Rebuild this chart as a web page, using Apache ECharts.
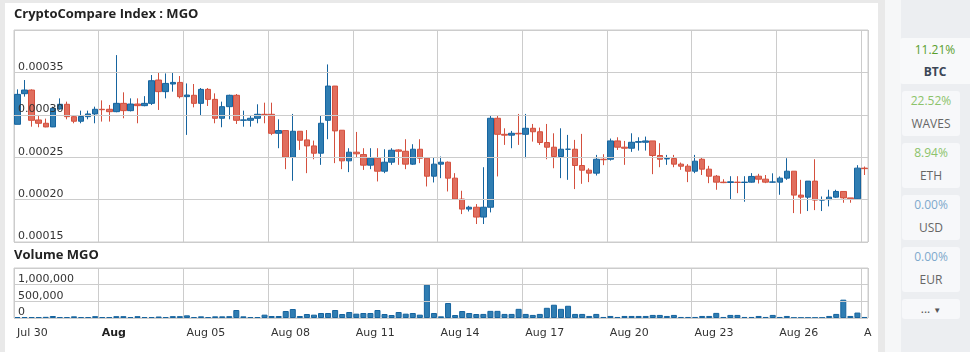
<!DOCTYPE html>
<html>
<head>
<meta charset="utf-8">
<script src="https://cdn.jsdelivr.net/npm/echarts@6/dist/echarts.min.js"></script>
<style>
    html, body { margin: 0; padding: 0; }
    body { width: 970px; height: 352px; background: #e9e9e9; position: relative; overflow: hidden; font-family: "Open Sans", sans-serif; }
    .card { position: absolute; left: 5px; top: 3px; width: 873px; height: 360px; background: #fff; }
    .strip { position: absolute; left: 885px; top: 0; width: 16px; height: 352px; background: #f6f7f8; }
    .side { position: absolute; left: 901px; top: 0; width: 69px; height: 352px; background: #eceef1; }
    .item { position: absolute; left: 902px; width: 58px; height: 45px; background: #f7f8fa; border-radius: 3px; }
    .item.first { left: 900px; width: 80px; top: 38px; height: 46px; background: #f8f9fa; }
    .item div { position: absolute; left: 0; width: 58px; text-align: center; font-size: 12px; line-height: 16px; }
    .item.first div { width: 70px; }
    .pct { top: 2px; }
    .name { top: 25px; color: #666; }
    .up1 { color: #5a9e2c; }
    .up2 { color: #8cc36b; }
    .flat { color: #7ea8cc; }
    #main { position: absolute; left: 0; top: 0; width: 970px; height: 352px; }
</style>
</head>
<body>
<div class="card"></div>
<div class="strip"></div>
<div class="side"></div>
<div class="item first"><div class="pct up1" style="top:4px">11.21%</div><div class="name" style="top:26px;color:#3b4656;font-weight:bold">BTC</div></div>
<div class="item" style="top:91px"><div class="pct up2">22.52%</div><div class="name">WAVES</div></div>
<div class="item" style="top:143px"><div class="pct up2">8.94%</div><div class="name">ETH</div></div>
<div class="item" style="top:195px"><div class="pct flat">0.00%</div><div class="name">USD</div></div>
<div class="item" style="top:247px"><div class="pct flat">0.00%</div><div class="name">EUR</div></div>
<div class="item" style="top:299px;height:20px"><div class="name" style="top:2px;color:#555">... <span style="font-size:8px">▼</span></div></div>
<div id="main"></div>
<script>
// prices in units of 0.00001
var open = [
    28.88, 32.49, 32.92, 29.39, 29.00, 28.57, 30.69, 31.24, 29.78, 29.24,
    29.78, 30.10, 30.65, 30.65, 30.37, 31.35, 30.49, 31.27, 31.08, 31.35,
    34.10, 32.73, 33.63, 33.82, 32.14, 32.30, 31.35, 33.00, 31.82, 29.59,
    30.96, 32.30, 29.35, 29.35, 29.59, 30.06, 30.06, 27.82, 28.14, 25.00,
    28.06, 27.04, 26.33, 25.47, 29.35, 33.39, 28.18, 24.57, 25.59, 25.31,
    24.06, 24.88, 23.35, 24.41, 25.86, 25.70, 24.18, 25.94, 24.88, 22.76,
    24.18, 24.41, 22.53, 20.06, 18.88, 19.10, 17.94, 19.10, 29.59, 27.70,
    27.60, 27.82, 27.70, 28.41, 28.00, 26.73, 26.18, 25.08, 25.94, 25.94,
    24.02, 23.47, 23.12, 24.76, 24.76, 26.92, 26.18, 26.06, 26.76, 26.76,
    26.92, 25.20, 24.80, 24.84, 24.18, 23.94, 23.35, 24.76, 23.59, 22.76,
    22.06, 22.02, 22.06, 22.02, 22.06, 22.76, 22.41, 22.06, 22.06, 22.53,
    23.35, 20.53, 20.29, 22.18, 19.94, 20.00, 20.29, 20.96, 20.20, 20.10,
    23.71
];
var close = [
    32.41, 32.92, 29.35, 29.00, 28.57, 30.76, 31.24, 29.78, 29.24, 29.80,
    30.10, 30.65, 30.60, 30.37, 31.35, 30.49, 31.27, 31.08, 31.35, 34.02,
    32.73, 33.70, 33.82, 32.14, 32.33, 31.35, 33.00, 31.82, 29.59, 30.96,
    32.30, 29.35, 29.40, 29.59, 30.06, 30.02, 27.82, 28.14, 25.00, 28.06,
    27.00, 26.33, 25.47, 29.00, 33.39, 28.10, 24.57, 25.59, 25.40, 24.06,
    24.88, 23.35, 24.41, 25.82, 25.70, 24.18, 25.94, 24.88, 22.76, 24.18,
    24.41, 22.53, 20.06, 18.88, 19.10, 17.94, 19.10, 29.59, 27.70, 27.60,
    27.82, 27.75, 28.41, 28.00, 26.73, 26.18, 25.08, 25.94, 25.94, 24.02,
    23.47, 23.12, 24.76, 24.70, 26.92, 26.18, 26.06, 26.76, 26.84, 26.92,
    25.20, 24.76, 24.84, 24.18, 23.94, 23.35, 24.53, 23.59, 22.76, 22.06,
    22.00, 22.10, 22.02, 22.06, 22.73, 22.41, 22.06, 22.08, 22.53, 23.35,
    20.53, 20.29, 22.18, 19.94, 19.98, 20.29, 20.96, 20.20, 20.10, 23.71,
    23.65
];
var low = [
    28.88, 32.14, 28.60, 28.53, 28.53, 28.55, 30.60, 29.47, 29.00, 29.00,
    29.47, 29.00, 29.20, 29.20, 30.30, 29.59, 30.40, 29.00, 31.00, 31.16,
    30.57, 31.94, 32.73, 31.94, 27.63, 30.88, 29.86, 31.04, 29.00, 28.53,
    29.47, 28.92, 28.60, 28.60, 29.00, 29.00, 27.60, 26.06, 23.59, 22.22,
    25.86, 23.12, 24.76, 24.10, 27.12, 24.30, 23.59, 23.24, 25.00, 23.50,
    23.59, 22.14, 23.12, 24.10, 24.10, 23.59, 24.10, 24.30, 21.55, 22.02,
    22.53, 20.96, 20.00, 18.29, 18.60, 17.12, 17.12, 18.49, 22.73, 26.45,
    26.06, 26.45, 24.88, 26.84, 26.45, 24.76, 23.70, 22.53, 22.33, 21.24,
    21.86, 22.06, 22.84, 24.06, 24.60, 25.86, 24.10, 25.63, 25.78, 25.78,
    23.00, 23.82, 24.10, 23.82, 23.51, 22.06, 23.12, 22.90, 21.94, 21.16,
    21.94, 19.98, 20.76, 19.75, 22.00, 21.90, 21.94, 22.00, 20.57, 22.33,
    18.41, 18.33, 18.65, 18.76, 18.65, 19.20, 20.20, 19.63, 19.63, 19.98,
    22.90
];
var high = [
    33.00, 34.10, 33.00, 29.98, 29.55, 30.96, 31.94, 31.55, 29.90, 30.49,
    30.49, 30.96, 31.70, 31.16, 37.04, 32.65, 31.94, 31.94, 32.20, 34.69,
    35.00, 34.88, 35.00, 34.57, 33.70, 33.63, 33.16, 33.16, 32.53, 31.55,
    32.37, 32.45, 30.49, 29.98, 31.24, 31.43, 31.43, 29.47, 28.20, 30.10,
    28.06, 28.20, 26.96, 29.90, 35.94, 33.40, 28.20, 26.06, 27.98, 26.06,
    26.06, 26.06, 25.94, 26.06, 25.94, 27.12, 26.53, 27.12, 24.90, 25.00,
    25.08, 24.50, 23.12, 21.04, 19.27, 19.47, 23.82, 29.86, 29.86, 28.41,
    28.10, 30.10, 30.10, 28.92, 28.49, 28.92, 27.82, 28.41, 27.63, 27.04,
    27.75, 23.70, 25.27, 25.35, 27.20, 27.35, 26.92, 27.82, 27.35, 27.43,
    26.92, 26.65, 25.27, 25.27, 24.37, 24.18, 25.27, 24.96, 23.98, 22.90,
    22.40, 22.76, 22.76, 22.76, 23.12, 23.04, 22.90, 23.10, 22.73, 24.88,
    23.35, 22.33, 22.18, 24.76, 20.37, 21.16, 21.16, 20.96, 20.20, 24.06,
    23.90
];
var volume = [
    30000, 30000, 25000, 25000, 35000, 60000, 30000, 30000, 50000, 30000,
    30000, 55000, 30000, 25000, 55000, 55000, 30000, 55000, 30000, 30000,
    45000, 30000, 55000, 55000, 80000, 30000, 50000, 30000, 50000, 50000,
    55000, 240000, 50000, 25000, 25000, 100000, 60000, 60000, 210000, 270000,
    60000, 120000, 100000, 150000, 150000, 240000, 120000, 180000, 130000, 150000,
    150000, 240000, 120000, 90000, 180000, 130000, 150000, 100000, 1000000, 150000,
    50000, 450000, 90000, 210000, 150000, 120000, 122000, 214000, 214000, 122000,
    122000, 275000, 122000, 92000, 122000, 306000, 398000, 275000, 367000, 122000,
    122000, 61000, 122000, 31000, 61000, 31000, 61000, 61000, 61000, 61000,
    92000, 92000, 61000, 92000, 31000, 31000, 31000, 61000, 61000, 153000,
    31000, 92000, 92000, 31000, 31000, 61000, 31000, 92000, 31000, 61000,
    10000, 10000, 10000, 10000, 10000, 61000, 122000, 550000, 61000, 163000,
    31000
];
// one label every 12 candles (3 days)
var tickLabels = ['Jul 30', 'Aug', 'Aug 05', 'Aug 08', 'Aug 11', 'Aug 14', 'Aug 17', 'Aug 20', 'Aug 23', 'Aug 26', 'A'];

var categories = [];
var candles = [];
for (var i = 0; i < open.length; i++) {
    categories.push(String(i));
    candles.push([open[i], close[i], low[i], high[i]]);
}

var gridColor = '#cccccc';
var labelStyle = { fontFamily: 'DejaVu Sans', fontSize: 11, color: '#333' };

var option = {
    animation: false,
    graphic: [
        { type: 'text', left: 14, top: 8, style: { text: 'CryptoCompare Index : MGO', font: 'bold 13px "Open Sans"', fill: '#222' } },
        { type: 'text', left: 14, top: 249, style: { text: 'Volume MGO', font: 'bold 13px "Open Sans"', fill: '#222' } }
    ],
    grid: [
        { left: 14, top: 30, width: 854, height: 212, show: true, borderColor: gridColor, borderWidth: 1 },
        { left: 14, top: 268, width: 854, height: 50, show: true, borderColor: gridColor, borderWidth: 1 }
    ],
    xAxis: [
        { type: 'category', gridIndex: 0, data: categories, show: false },
        {
            type: 'value', gridIndex: 0, min: 0, max: 121, interval: 12, position: 'bottom',
            axisLine: { show: false }, axisTick: { show: false }, axisLabel: { show: false },
            splitLine: { lineStyle: { color: gridColor } }
        },
        { type: 'category', gridIndex: 1, data: categories, show: false },
        {
            type: 'value', gridIndex: 1, min: 0, max: 121, interval: 12, position: 'bottom',
            axisLine: { show: false }, axisTick: { show: false },
            axisLabel: Object.assign({}, labelStyle, {
                align: 'left', margin: 10, padding: [0, 0, 0, 3],
                showMaxLabel: true,
                formatter: function(v) {
                    if (v % 12 !== 0) return '';
                    var t = tickLabels[v / 12];
                    if (t === 'Aug') return '{b|Aug}';
                    return t || '';
                },
                rich: { b: { fontWeight: 'bold', fontFamily: 'DejaVu Sans', fontSize: 11, color: '#222' } }
            }),
            splitLine: { lineStyle: { color: gridColor } }
        }
    ],
    yAxis: [
        {
            type: 'value', gridIndex: 0, min: 15, max: 40, interval: 5, z: 20,
            axisLine: { show: false }, axisTick: { show: false },
            axisLabel: Object.assign({}, labelStyle, {
                inside: true, margin: 4, verticalAlign: 'bottom', showMaxLabel: false,
                formatter: function(v) { return (v / 100000).toFixed(5); }
            }),
            splitLine: { lineStyle: { color: gridColor } }
        },
        {
            type: 'value', gridIndex: 1, min: 0, max: 1500000, interval: 500000, z: 20,
            axisLine: { show: false }, axisTick: { show: false },
            axisLabel: Object.assign({}, labelStyle, {
                inside: true, margin: 4, verticalAlign: 'bottom', showMaxLabel: false,
                formatter: function(v) { return v.toLocaleString('en-US'); }
            }),
            splitLine: { lineStyle: { color: gridColor } }
        }
    ],
    series: [
        {
            type: 'candlestick',
            xAxisIndex: 0,
            yAxisIndex: 0,
            z: 1,
            barWidth: 6,
            data: candles,
            itemStyle: {
                color: '#2f7db2',
                color0: '#e06e5e',
                borderColor: '#16649f',
                borderColor0: '#d4503e',
                borderWidth: 1
            }
        },
        {
            type: 'bar',
            xAxisIndex: 2,
            yAxisIndex: 1,
            z: 1,
            barWidth: 6,
            data: volume,
            itemStyle: { color: '#2f7db2', borderColor: '#16649f', borderWidth: 1 }
        }
    ]
};
var myChart = echarts.init(document.getElementById('main'));
myChart.setOption(option);
</script>
</body>
</html>
